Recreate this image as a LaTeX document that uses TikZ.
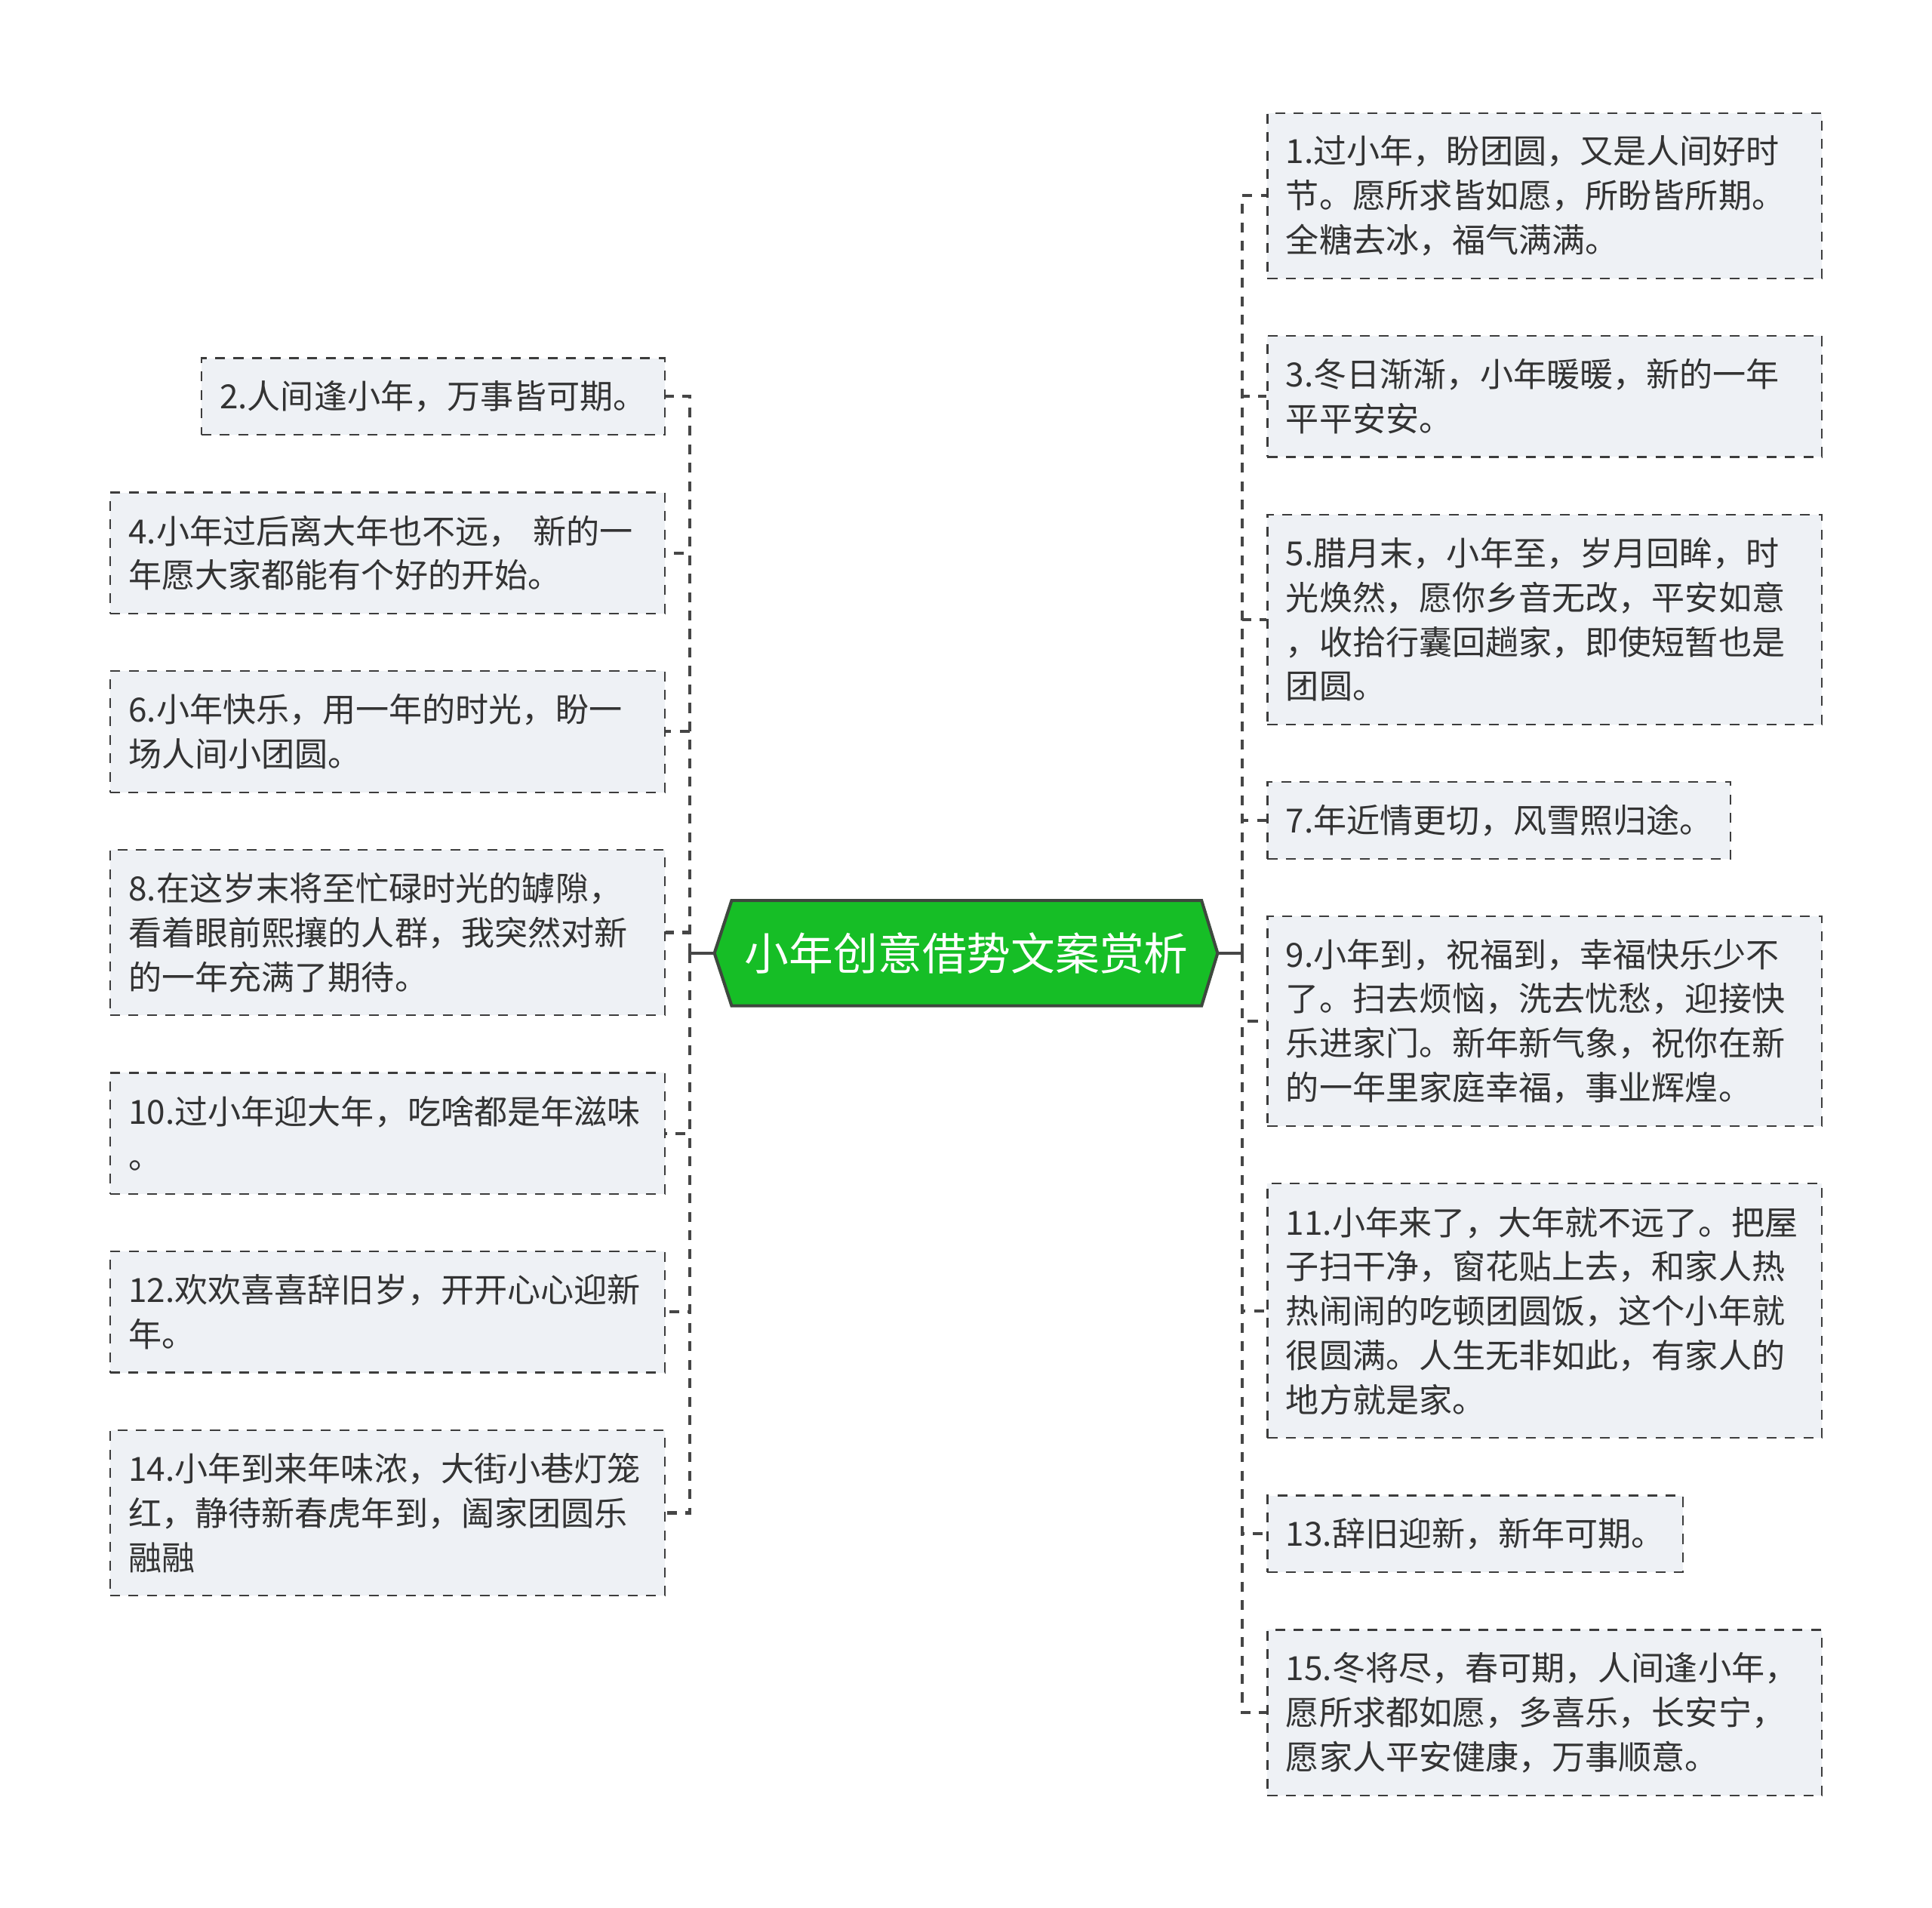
\documentclass[tikz,border=0pt]{standalone}
\usepackage{fontspec}
\setmainfont{Noto Sans CJK SC}
\usetikzlibrary{positioning,backgrounds}
\definecolor{hubg}{RGB}{22,190,38}
\definecolor{hubr}{RGB}{62,72,62}
\definecolor{boxf}{RGB}{238,241,245}
\definecolor{boxr}{RGB}{60,60,60}
\definecolor{txt}{RGB}{51,51,51}
\definecolor{linec}{RGB}{70,70,70}
\tikzset{
  hub/.style={rectangle,text=white,font=\fontsize{36}{40}\selectfont,
    minimum width=381pt,minimum height=85pt,inner sep=0pt},
  hubshape/.style={draw=hubr,line width=2.5pt,fill=hubg,line join=miter},
  note/.style={rectangle,draw=boxr,fill=boxf,line width=1.3pt,
    dash pattern=on 8pt off 7pt,text=txt,text width=#1,align=left,
    inner xsep=15pt,inner ysep=0pt,font=\fontsize{27}{36}\selectfont},
  note/.default=420pt,
  nlines/.style={minimum height=26.2pt+36pt*#1},
  stem/.style={draw=linec,line width=2.5pt},
  link/.style={draw=linec,line width=2.5pt,dash pattern=on 8pt off 7pt},
}
\begin{document}
\begin{tikzpicture}[x=1pt,y=-1pt,node distance=45.5pt]
  \useasboundingbox (0,0) rectangle (1568,1548);
  \node[hub] (hub) at (784.5,773.5) {小年创意借势文案赏析};
  \coordinate (lj) at (560,773.5);
  \coordinate (rj) at (1008,773.5);

  \node[note,nlines=3,anchor=north west] (b1) at (1028,91) {1.过小年，盼团圆，又是人间好时\\节。愿所求皆如愿，所盼皆所期。\\全糖去冰，福气满满。};
  \node[note,nlines=2,below=of b1.south west,anchor=north west] (b3) {3.冬日渐渐，小年暖暖，新的一年\\平平安安。};
  \node[note,nlines=4,below=of b3.south west,anchor=north west] (b5) {5.腊月末，小年至，岁月回眸，时\\光焕然，愿你乡音无改，平安如意\\，收拾行囊回趟家，即使短暂也是\\团圆。};
  \node[note=346pt,nlines=1,below=of b5.south west,anchor=north west] (b7) {7.年近情更切，风雪照归途。};
  \node[note,nlines=4,below=of b7.south west,anchor=north west] (b9) {9.小年到，祝福到，幸福快乐少不\\了。扫去烦恼，洗去忧愁，迎接快\\乐进家门。新年新气象，祝你在新\\的一年里家庭幸福，事业辉煌。};
  \node[note,nlines=5,below=of b9.south west,anchor=north west] (b11) {11.小年来了，大年就不远了。把屋\\子扫干净，窗花贴上去，和家人热\\热闹闹的吃顿团圆饭，这个小年就\\很圆满。人生无非如此，有家人的\\地方就是家。};
  \node[note=307pt,nlines=1,below=of b11.south west,anchor=north west] (b13) {13.辞旧迎新，新年可期。};
  \node[note,nlines=3,below=of b13.south west,anchor=north west] (b15) {15.冬将尽，春可期，人间逢小年，\\愿所求都如愿，多喜乐，长安宁，\\愿家人平安健康，万事顺意。};

  \node[note=346pt,nlines=1,anchor=north east] (b2) at (540,290) {2.人间逢小年，万事皆可期。};
  \node[note,nlines=2,below=of b2.south east,anchor=north east] (b4) {4.小年过后离大年也不远，~新的一\\年愿大家都能有个好的开始。};
  \node[note,nlines=2,below=of b4.south east,anchor=north east] (b6) {6.小年快乐，用一年的时光，盼一\\场人间小团圆。};
  \node[note,nlines=3,below=of b6.south east,anchor=north east] (b8) {8.在这岁末将至忙碌时光的罅隙，\\看着眼前熙攘的人群，我突然对新\\的一年充满了期待。};
  \node[note,nlines=2,below=of b8.south east,anchor=north east] (b10) {10.过小年迎大年，吃啥都是年滋味\\。};
  \node[note,nlines=2,below=of b10.south east,anchor=north east] (b12) {12.欢欢喜喜辞旧岁，开开心心迎新\\年。};
  \node[note,nlines=3,below=of b12.south east,anchor=north east] (b14) {14.小年到来年味浓，大街小巷灯笼\\红，静待新春虎年到，阖家团圆乐\\融融};

  \begin{scope}[on background layer]
    \fill[white] (0,0) rectangle (1568,1548);
    \draw[hubshape] (hub.north west) -- (hub.north east) -- ([xshift=13pt]hub.east)
      -- (hub.south east) -- (hub.south west) -- ([xshift=-14pt]hub.west) -- cycle;
  \end{scope}

  \draw[stem] ([xshift=-14pt]hub.west) -- (lj);
  \draw[stem] ([xshift=13pt]hub.east) -- (rj);
  \foreach \b in {b1,b3,b5,b7,b9,b11,b13,b15}
    \draw[link] (rj) |- (\b.west);
  \foreach \b in {b2,b4,b6,b8,b10,b12,b14}
    \draw[link] (lj) |- (\b.east);
\end{tikzpicture}
\end{document}
